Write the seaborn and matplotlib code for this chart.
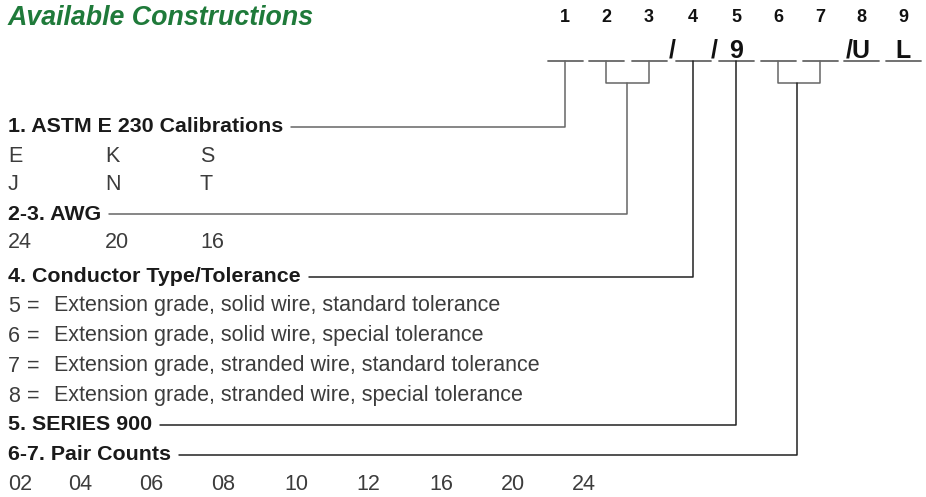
import matplotlib
matplotlib.use("Agg")
import matplotlib.pyplot as plt
import seaborn as sns

sns.set_theme(style="white")
plt.rcParams['font.family'] = ['Liberation Sans', 'DejaVu Sans']

# ---- content ----
title = "Available Constructions"
positions = ["1", "2", "3", "4", "5", "6", "7", "8", "9"]
calibrations = [["E", "K", "S"], ["J", "N", "T"]]
awg = ["24", "20", "16"]
conductor_codes = ["5", "6", "7", "8"]
conductor = [
    "Extension grade, solid wire, standard tolerance",
    "Extension grade, solid wire, special tolerance",
    "Extension grade, stranded wire, standard tolerance",
    "Extension grade, stranded wire, special tolerance",
]
pair_counts = ["02", "04", "06", "08", "10", "12", "16", "20", "24"]
headings = ["1. ASTM E 230 Calibrations", "2-3. AWG", "4. Conductor Type/Tolerance",
            "5. SERIES 900", "6-7. Pair Counts"]

GREEN = "#1f7a3a"
TXT = "#3c3c3c"
GREY = "#666666"
DARK = "#222222"

fig = plt.figure(figsize=(9.26, 4.97), dpi=100)
ax = fig.add_axes([0, 0, 1, 1])
ax.set_xlim(0, 926)
ax.set_ylim(497, 0)
ax.axis("off")

ax.text(8, 18, title, color=GREEN, fontsize=19.3, fontweight="bold",
        fontstyle="italic", va="center", ha="left")

# code slots along the top
slot_x = [565, 606, 649, 693, 736, 778, 820, 861, 903]
slot_w = 35
slot_y = 61
for px, lab in zip(slot_x, positions):
    ax.text(px, 17, lab, fontsize=13, fontweight="bold", color="#111111",
            ha="center", va="center")
    ax.plot([px - slot_w / 2, px + slot_w / 2], [slot_y, slot_y], color=GREY, lw=1.3)

big = dict(fontsize=18, fontweight="bold", color="#111111", va="baseline")
ax.text(672, 58, "/", ha="center", **big)
ax.text(714, 58, "/", ha="center", **big)
ax.text(736, 58, "9", ha="center", **big)
ax.text(858, 58, "/U", ha="center", **big)
ax.text(903, 58, "L", ha="center", **big)

# brackets joining pairs of slots
for a, b in [(606, 649), (778, 820)]:
    ax.plot([a, a, b, b], [slot_y, 83, 83, slot_y], color=GREY, lw=1.1)

# headings with leader lines
head_y = [127, 214, 277, 425, 455]
leader_x = [565, 627, 693, 736, 797]
leader_c = [GREY, GREY, DARK, DARK, DARK]
fig.canvas.draw()
for h, hy, lx, lc in zip(headings, head_y, leader_x, leader_c):
    t = ax.text(8, hy, h, fontsize=15.4, fontweight="bold", color="#1a1a1a",
                va="center", ha="left")
    bb = t.get_window_extent(renderer=fig.canvas.get_renderer()).transformed(ax.transData.inverted())
    top = 83 if lx in (627, 797) else slot_y
    ax.plot([bb.x1 + 8, lx, lx], [hy, hy, top], color=lc, lw=1.1)

reg = dict(fontsize=15.5, color=TXT, va="center", ha="left")
col_x = [8, 105, 200]
for row, ry in zip(calibrations, [156, 185]):
    for cx, v in zip(col_x, row):
        ax.text(cx, ry, v, **reg)
for cx, v in zip(col_x, awg):
    ax.text(cx, 243, v, **reg)
for i, (code, line) in enumerate(zip(conductor_codes, conductor)):
    ax.text(8, 306 + 30 * i, code, **reg)
    ax.text(27, 306 + 30 * i, "=", **reg)
    ax.text(54, 306 + 30 * i, line, **reg)
pc_x = [8, 68, 139, 211, 284, 356, 429, 501, 572]
for cx, v in zip(pc_x, pair_counts):
    ax.text(cx, 485, v, **reg)

fig.savefig("out.png", dpi=100)
